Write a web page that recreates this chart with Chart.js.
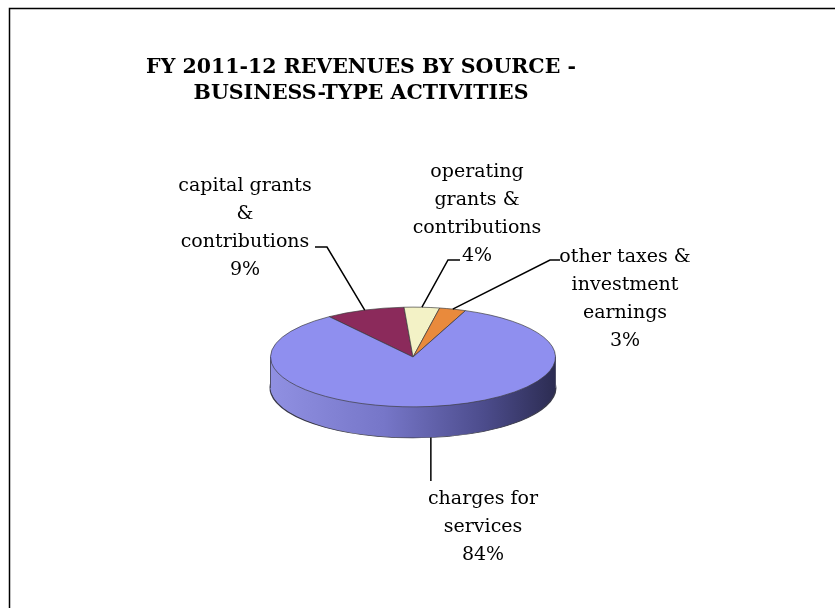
<!DOCTYPE html>
<html>
<head>
<meta charset="utf-8">
<title>FY 2011-12 Revenues by Source - Business-Type Activities</title>
<script src="https://cdn.jsdelivr.net/npm/chart.js@4/dist/chart.umd.min.js"></script>
<style>
	body { margin: 0; background: #ffffff; }
	canvas { display: block; }
</style>
</head>
<body>
<canvas id="revenueChart" width="835" height="608"></canvas>
<script>
// Data
const categories = ["capital grants & contributions", "operating grants & contributions", "other taxes & investment earnings", "charges for services"];
const labelLines = [["capital grants", "&", "contributions"], ["operating", "grants &", "contributions"], ["other taxes &", "investment", "earnings"], ["charges for", "services"]];
const values = [9, 4, 3, 84];
const titleLines = ["FY 2011-12 REVENUES BY SOURCE -", "BUSINESS-TYPE ACTIVITIES"];

const sliceColors = ["#8b2a5b", "#f3f2c6", "#e98a3c", "#8f8fef"];

// where each label block sits (centre x, first baseline) and where its leader bends
const labelLayout = [
	{ x: 245, y: 191, elbow: [327, 247], end: [315, 247] },
	{ x: 477, y: 177, elbow: [448, 260], end: [460, 260] },
	{ x: 625, y: 262, elbow: [550, 260], end: [560, 260] },
	{ x: 483, y: 504, drop: 481 },
];

const TILT = 0.35; // vertical squash of the pie
const DEPTH = 31; // thickness of the pie side
const LINE_H = 28;

function tiltAround(ctx, cx, cy, dy) {
	ctx.translate(cx, cy + dy);
	ctx.scale(1, TILT);
	ctx.translate(-cx, -cy);
}

// draws the side of the pie from stacked copies of the arcs, then squashes the top face
const tiltPlugin = {
	id: "tilt",
	beforeDatasetsDraw(chart) {
		var ctx = chart.ctx;
		var arcs = chart.getDatasetMeta(0).data;
		var cx = arcs[0].x;
		var cy = arcs[0].y;
		var r = arcs[0].outerRadius;

		var grad = ctx.createLinearGradient(cx - r, 0, cx + r, 0);
		grad.addColorStop(0, "#9090e2");
		grad.addColorStop(0.4, "#7676c8");
		grad.addColorStop(0.75, "#4c4c8c");
		grad.addColorStop(1, "#2c2c52");

		for (let d = DEPTH; d >= 1; d--) {
			ctx.save();
			tiltAround(ctx, cx, cy, d);
			arcs.forEach((arc) => {
				var side = Object.create(arc);
				side.options = Object.assign({}, arc.options, {
					backgroundColor: grad,
					borderColor: "#3a3a4a",
					borderWidth: d === DEPTH ? 2 : 0,
				});
				side.draw(ctx);
			});
			ctx.restore();
		}

		// side edges
		ctx.save();
		ctx.strokeStyle = "#50506a";
		ctx.lineWidth = 1;
		ctx.beginPath();
		ctx.moveTo(cx - r, cy);
		ctx.lineTo(cx - r, cy + DEPTH);
		ctx.moveTo(cx + r, cy);
		ctx.lineTo(cx + r, cy + DEPTH);
		ctx.stroke();
		ctx.restore();

		ctx.save();
		tiltAround(ctx, cx, cy, 0);
	},
	afterDatasetsDraw(chart) {
		chart.ctx.restore();
	},
};

// frame, title, labels and leader lines
const textPlugin = {
	id: "texts",
	afterDraw(chart) {
		var ctx = chart.ctx;
		var arcs = chart.getDatasetMeta(0).data;

		ctx.save();
		ctx.strokeStyle = "#000000";
		ctx.lineWidth = 1.5;
		ctx.beginPath();
		ctx.moveTo(9.5, 608);
		ctx.lineTo(9.5, 8.5);
		ctx.lineTo(835, 8.5);
		ctx.stroke();

		ctx.fillStyle = "#000000";
		ctx.textAlign = "center";
		ctx.textBaseline = "alphabetic";
		ctx.font = "bold 20.5px 'DejaVu Serif'";
		titleLines.forEach((t, i) => {
			ctx.fillText(t, 361, 73 + i * 26);
		});

		ctx.font = "19px 'DejaVu Serif'";
		ctx.lineWidth = 1.5;
		arcs.forEach((arc, i) => {
			var lay = labelLayout[i];
			var lines = labelLines[i].concat([values[i] + "%"]);
			lines.forEach((t, j) => {
				ctx.fillText(t, lay.x, lay.y + j * LINE_H);
			});

			// leader from the middle of the slice edge
			var a = (arc.startAngle + arc.endAngle) / 2;
			var ax = arc.x + arc.outerRadius * Math.cos(a);
			var ay = arc.y + arc.outerRadius * Math.sin(a) * TILT;
			if (Math.sin(a) > 0) ay += DEPTH;

			ctx.beginPath();
			ctx.moveTo(ax, ay);
			if (lay.drop) {
				ctx.lineTo(ax, lay.drop);
			} else {
				ctx.lineTo(lay.elbow[0], lay.elbow[1]);
				ctx.lineTo(lay.end[0], lay.end[1]);
			}
			ctx.stroke();
		});
		ctx.restore();
	},
};

const chart = new Chart(document.getElementById("revenueChart"), {
	type: "pie",
	data: {
		labels: categories,
		datasets: [
			{
				data: values,
				backgroundColor: sliceColors,
				borderColor: "#3c3c3c",
				borderWidth: 1,
				clip: false,
			},
		],
	},
	options: {
		responsive: false,
		animation: false,
		events: [],
		rotation: -36,
		layout: {
			padding: { left: 270, right: 279, top: 214, bottom: 108 },
		},
		plugins: {
			legend: { display: false },
			tooltip: { enabled: false },
			title: { display: false },
		},
	},
	plugins: [tiltPlugin, textPlugin],
});
</script>
</body>
</html>
